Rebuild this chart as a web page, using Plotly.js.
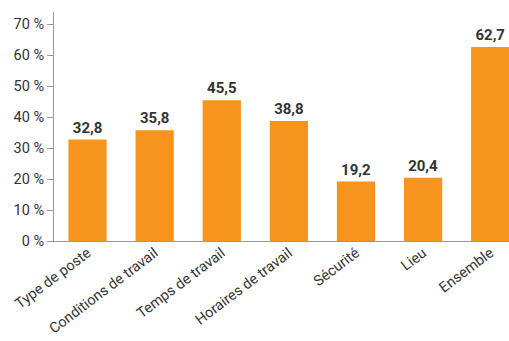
<!DOCTYPE html>
<html><head><meta charset="utf-8">
<script src="https://cdn.plot.ly/plotly-3.0.1.min.js"></script>
<style>html,body{margin:0;padding:0;background:#fff}#c{width:509px;height:341px}</style>
</head><body><div id="c"></div>
<script>
var categories = ["Type de poste","Conditions de travail","Temps de travail","Horaires de travail","Sécurité","Lieu","Ensemble"];
var values = [32.8, 35.8, 45.5, 38.8, 19.2, 20.4, 62.7];
var yTicks = [0,10,20,30,40,50,60,70];
var yTickLabels = ["0 %","10 %","20 %","30 %","40 %","50 %","60 %","70 %"];

var trace = {
  type: 'bar', x: categories, y: values,
  marker: {color: '#F7941D'},
  text: values, texttemplate: '%{y:.1f}', textposition: 'outside',
  textfont: {family: 'Roboto', size: 15, color: '#333333', weight: 'bold'},
  cliponaxis: false, hoverinfo: 'none'
};
var layout = {
  width: 509, height: 341,
  margin: {l: 54, r: 0, t: 12, b: 100},
  separators: ', ',
  paper_bgcolor: '#fff', plot_bgcolor: '#fff',
  showlegend: false, bargap: 0.43,
  font: {family: 'Roboto', size: 14, color: '#333333'},
  xaxis: {
    range: [-0.5, 6.28], tickangle: -37, showline: true, linecolor: '#999999', linewidth: 1,
    ticks: '', ticklabelstandoff: -3, showgrid: false, zeroline: false, tickfont: {size: 14.5, color: '#333333'}
  },
  yaxis: {
    range: [0, 74], tickmode: 'array', tickvals: yTicks, ticktext: yTickLabels, showline: true, linecolor: '#999999',
    linewidth: 1, ticks: 'outside', ticklen: 6, tickcolor: '#999999', showgrid: false,
    zeroline: false, tickfont: {size: 14.5, color: '#333333'}
  }
};
Plotly.newPlot('c', [trace], layout, {staticPlot: true, displayModeBar: false});
</script></body></html>
